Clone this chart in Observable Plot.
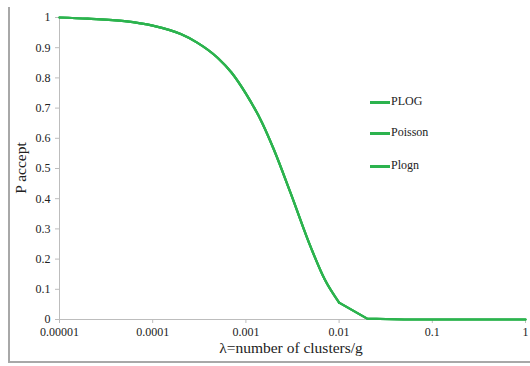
<!DOCTYPE html>
<html><head><meta charset="utf-8">
<script src="https://cdn.jsdelivr.net/npm/d3@7"></script>
<script src="https://cdn.jsdelivr.net/npm/@observablehq/plot@0.6"></script>
<style>
html,body{margin:0;padding:0;background:#fff;}
#wrap{position:relative;width:530px;height:366px;overflow:hidden;font-family:"Liberation Serif","Times New Roman",Times,serif;}
#wrap svg, #wrap svg text{font-family:"Liberation Serif","Times New Roman",Times,serif !important;}
#frame{position:absolute;left:8px;top:7px;width:530px;height:356px;border-left:2px solid #a8a8a8;border-bottom:2px solid #a8a8a8;box-sizing:border-box;}
#legend{position:absolute;left:370px;top:0;font-size:12px;color:#222;font-family:"Liberation Serif","Times New Roman",Times,serif;}
.li{position:absolute;left:0;white-space:nowrap;}
.li span.sw{display:inline-block;width:20px;height:2.5px;background:#2cb34e;vertical-align:middle;margin-right:1px;}
</style></head>
<body><div id="wrap"><div id="frame"></div><div id="chart"></div><div id="legend"></div></div>
<script>
const lambda = [0.00001,0.00002,0.00005,0.0001,0.0002,0.0003,0.0005,0.0007,0.001,0.0015,0.002,0.003,0.005,0.007,0.01,0.02,0.05,0.1,0.2,0.5,1];
const plog   = [1.000,0.996,0.988,0.973,0.945,0.917,0.866,0.818,0.748,0.650,0.562,0.421,0.237,0.133,0.056,0.003,0,0,0,0,0];
const poisson= [1.000,0.996,0.988,0.973,0.945,0.917,0.866,0.818,0.748,0.650,0.562,0.421,0.237,0.133,0.056,0.003,0,0,0,0,0];
const plogn  = [1.000,0.996,0.988,0.973,0.945,0.917,0.866,0.818,0.748,0.650,0.562,0.421,0.237,0.133,0.056,0.003,0,0,0,0,0];
const seriesNames = ["PLOG","Poisson","Plogn"];
const xTicks = [0.00001,0.0001,0.001,0.01,0.1,1];
const xTickLabels = ["0.00001","0.0001","0.001","0.01","0.1","1"];
const yTicks = [0,0.1,0.2,0.3,0.4,0.5,0.6,0.7,0.8,0.9,1];
const yTickLabels = ["0","0.1","0.2","0.3","0.4","0.5","0.6","0.7","0.8","0.9","1"];
const green = "#2cb34e";

const values = [plog, poisson, plogn];
const data = [];
seriesNames.forEach((s,i)=>lambda.forEach((l,j)=>data.push({series:s, x:l, y:values[i][j]})));

const chart = Plot.plot({
  width:530, height:366,
  marginLeft:59, marginRight:5, marginTop:17, marginBottom:47,
  style:{fontFamily:"Liberation Serif, Times New Roman, serif", fontSize:"12px", background:"transparent", color:"#222"},
  x:{type:"log", domain:[0.00001,1], label:null},
  y:{domain:[0,1], label:null},
  marks:[
    Plot.ruleY([0],{stroke:"#bdbdbd"}),
    Plot.ruleX([0.00001],{stroke:"#bdbdbd"}),
    Plot.axisX(xTicks,{tickSize:4, stroke:"#bdbdbd", tickFormat:()=>"" , label:null}),
    Plot.axisX(xTicks,{tickSize:0, tickPadding:8, fill:"#222", tickFormat:(d)=>xTickLabels[xTicks.indexOf(d)], label:null}),
    Plot.axisY(yTicks,{tickSize:4, stroke:"#bdbdbd", tickFormat:()=>"", label:null}),
    Plot.axisY(yTicks,{tickSize:0, tickPadding:9, fill:"#222", tickFormat:(d)=>yTickLabels[yTicks.indexOf(d)], label:null}),
    Plot.line(data.filter(d=>d.x<=0.01),{x:"x", y:"y", z:"series", stroke:green, strokeWidth:2.2, curve:"monotone-x"}),
    Plot.line(data.filter(d=>d.x>=0.01),{x:"x", y:"y", z:"series", stroke:green, strokeWidth:2.2, curve:"linear"})
  ]
});
document.getElementById("chart").appendChild(chart);
const svg = d3.select(chart);
svg.append("text").attr("x",291).attr("y",353).attr("text-anchor","middle")
  .style("font-size","15.5px").attr("fill","#222").text("λ=number of clusters/g");
svg.append("text").attr("transform","translate(26,168) rotate(-90)").attr("text-anchor","middle")
  .style("font-size","15.5px").attr("fill","#222").text("P accept");

const lg = document.getElementById("legend");
const tops = [94,125,158];
seriesNames.forEach((s,i)=>{
  const d = document.createElement("div"); d.className="li"; d.style.top = tops[i]+"px";
  d.innerHTML = '<span class="sw"></span>'+s; lg.appendChild(d);
});
</script></body></html>
